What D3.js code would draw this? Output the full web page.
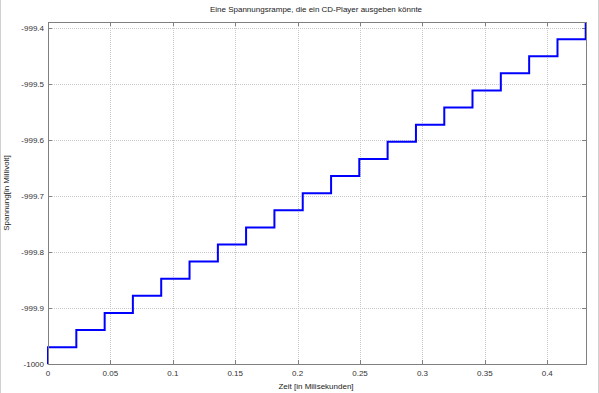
<!DOCTYPE html>
<html>
<head>
<meta charset="utf-8">
<script src="https://cdn.jsdelivr.net/npm/d3@7"></script>
<style>
    body { margin: 0; background: #fff; }
    svg { display: block; font-family: "Liberation Sans", Arial, sans-serif; }
    .grid line { stroke: #c8c8c8; stroke-dasharray: 1,1; shape-rendering: crispEdges; }
    .frame { fill: none; stroke: #808080; stroke-width: 1; shape-rendering: crispEdges; }
    .tick-label { font-size: 8px; fill: #333; }
</style>
</head>
<body>
<script>
(function(){

    //sample instants (ms) where the player updates the output
    var sampleTimes = [0, 0.0227, 0.0454, 0.0680, 0.0907, 0.1134, 0.1361, 0.1587, 0.1814, 0.2041,
                       0.2268, 0.2494, 0.2721, 0.2948, 0.3175, 0.3401, 0.3628, 0.3855, 0.4082, 0.4308];
    //voltage held after each sample (mV)
    var sampleLevels = [-999.9695, -999.9390, -999.9084, -999.8779, -999.8474, -999.8169, -999.7864,
                        -999.7559, -999.7253, -999.6948, -999.6643, -999.6338, -999.6033, -999.5728,
                        -999.5422, -999.5117, -999.4812, -999.4507, -999.4202, -999.3896];
    var startLevel = -1000;

    //axis ticks
    var xTicks = [0, 0.05, 0.1, 0.15, 0.2, 0.25, 0.3, 0.35, 0.4];
    var yTicks = [-1000, -999.9, -999.8, -999.7, -999.6, -999.5, -999.4];

    var width = 599, height = 393;
    var left = 48, right = 585.7, top = 22, bottom = 364.3;

    var svg = d3.select("body").append("svg")
        .attr("width", width)
        .attr("height", height);

    //faint page border
    svg.append("line").attr("x1", 0.5).attr("x2", 0.5).attr("y1", 0).attr("y2", height)
        .attr("stroke", "#d0d0d0");
    svg.append("line").attr("x1", 598.5).attr("x2", 598.5).attr("y1", 0).attr("y2", height)
        .attr("stroke", "#d0d0d0");

    var x = d3.scaleLinear().domain([0, d3.max(sampleTimes)]).range([left, right]);
    var y = d3.scaleLinear().domain([startLevel, d3.max(sampleLevels)]).range([bottom, top]);

    //grid
    var grid = svg.append("g").attr("class", "grid");
    grid.selectAll(".gx").data(xTicks.slice(1)).enter().append("line")
        .attr("x1", function(d){ return Math.round(x(d)) + 0.5; })
        .attr("x2", function(d){ return Math.round(x(d)) + 0.5; })
        .attr("y1", top).attr("y2", bottom);
    grid.selectAll(".gy").data(yTicks.slice(1)).enter().append("line")
        .attr("y1", function(d){ return Math.round(y(d)) + 0.5; })
        .attr("y2", function(d){ return Math.round(y(d)) + 0.5; })
        .attr("x1", left).attr("x2", right);

    //inward ticks on all sides
    var tk = 4;
    var ticks = svg.append("g").attr("stroke", "#808080").attr("shape-rendering", "crispEdges");
    xTicks.forEach(function(d){
        var px = Math.round(x(d)) + 0.5;
        ticks.append("line").attr("x1", px).attr("x2", px).attr("y1", bottom).attr("y2", bottom - tk);
        ticks.append("line").attr("x1", px).attr("x2", px).attr("y1", top).attr("y2", top + tk);
    });
    yTicks.forEach(function(d){
        var py = Math.round(y(d)) + 0.5;
        ticks.append("line").attr("y1", py).attr("y2", py).attr("x1", left).attr("x2", left + tk);
        ticks.append("line").attr("y1", py).attr("y2", py).attr("x1", right).attr("x2", right - tk);
    });

    //tick labels (plain hyphen minus, like the original)
    svg.selectAll(".xl").data(xTicks).enter().append("text")
        .attr("class", "tick-label")
        .attr("x", function(d){ return x(d); })
        .attr("y", bottom + 12)
        .attr("text-anchor", "middle")
        .text(function(d){ return String(d); });
    svg.selectAll(".yl").data(yTicks).enter().append("text")
        .attr("class", "tick-label")
        .attr("x", left - 4)
        .attr("y", function(d){ return y(d) + 3; })
        .attr("text-anchor", "end")
        .text(function(d){ return String(d); });

    //the staircase
    var points = [[0, startLevel]];
    sampleTimes.forEach(function(t, i){ points.push([t, sampleLevels[i]]); });

    var line = d3.line()
        .x(function(d){ return x(d[0]); })
        .y(function(d){ return y(d[1]); })
        .curve(d3.curveStepAfter);

    svg.append("path")
        .datum(points)
        .attr("fill", "none")
        .attr("stroke", "#0000ff")
        .attr("stroke-width", 2)
        .attr("d", line);

    //frame
    svg.append("rect").attr("class", "frame")
        .attr("x", left + 0.5).attr("y", top + 0.5)
        .attr("width", Math.round(right - left)).attr("height", Math.round(bottom - top));

    //titles
    svg.append("text")
        .attr("x", 316).attr("y", 12)
        .attr("text-anchor", "middle")
        .attr("font-size", "8px").attr("fill", "#222")
        .text("Eine Spannungsrampe, die ein CD-Player ausgeben könnte");
    svg.append("text")
        .attr("x", 316).attr("y", 389)
        .attr("text-anchor", "middle")
        .attr("font-size", "8px").attr("fill", "#222")
        .text("Zeit [in Milisekunden]");
    svg.append("text")
        .attr("transform", "translate(9,193) rotate(-90)")
        .attr("text-anchor", "middle")
        .attr("font-size", "8px").attr("fill", "#222")
        .text("Spannung[in Millivolt]");

})();
</script>
</body>
</html>
